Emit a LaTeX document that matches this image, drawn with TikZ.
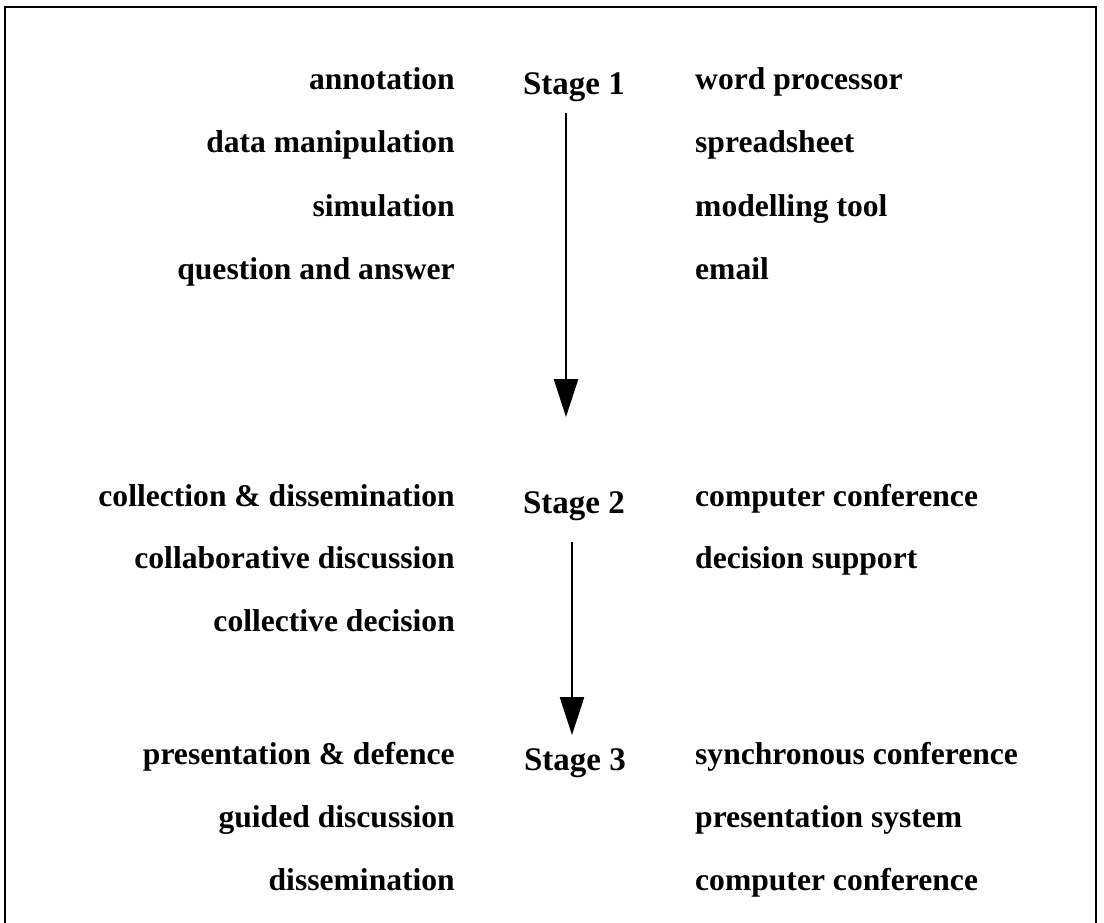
\documentclass[tikz,border=0pt]{standalone}
\usepackage{fontspec}
\setmainfont{Liberation Serif}
\usetikzlibrary{arrows.meta}
\begin{document}
\begin{tikzpicture}[x=1pt,y=-1pt,
  lab/.style={font=\fontsize{31.6}{34}\selectfont\bfseries, inner sep=0pt},
  lft/.style={lab, anchor=base east},
  rgt/.style={lab, anchor=base west},
  stagelab/.style={font=\fontsize{33}{36}\selectfont\bfseries, inner sep=0pt, anchor=base},
  flow/.style={line width=2.8pt, -{Triangle[width=24pt,length=38pt]}},
  frame/.style={line width=1.6pt}]
\useasboundingbox (0,0) rectangle (1104,923);
% frame (open at the bottom)
\coordinate (fbl) at (5,923);
\coordinate (ftl) at (5,7);
\coordinate (ftr) at (1096,7);
\coordinate (fbr) at (1096,923);
\draw[frame] (fbl) -- (ftl) -- (ftr) -- (fbr);
% stage 1
\node[lft] (l1) at (455,90) {annotation};
\node[lft] (l2) at (455,153) {data manipulation};
\node[lft] (l3) at (455,216) {simulation};
\node[lft] (l4) at (455,279) {question and answer};
\node[rgt] (r1) at (695,90) {word processor};
\node[rgt] (r2) at (695,153) {spreadsheet};
\node[rgt] (r3) at (695,216) {modelling tool};
\node[rgt] (r4) at (695,279) {email};
\node[stagelab] (s1) at (574,95) {Stage 1};
% stage 2
\node[lft] (l5) at (455,506) {collection \& dissemination};
\node[lft] (l6) at (455,568) {collaborative discussion};
\node[lft] (l7) at (455,631) {collective decision};
\node[rgt] (r5) at (695,506) {computer conference};
\node[rgt] (r6) at (695,568) {decision support};
\node[stagelab] (s2) at (574,513) {Stage 2};
% stage 3
\node[lft] (l8) at (455,764) {presentation \& defence};
\node[lft] (l9) at (455,827) {guided discussion};
\node[lft] (l10) at (455,890) {dissemination};
\node[rgt] (r7) at (695,764) {synchronous conference};
\node[rgt] (r8) at (695,827) {presentation system};
\node[rgt] (r9) at (695,890) {computer conference};
\node[stagelab] (s3) at (575,770) {Stage 3};
% arrows
\coordinate (a1s) at (566,113);
\coordinate (a1e) at (566,417);
\coordinate (a2s) at (572,542);
\coordinate (a2e) at (572,735);
\draw[flow] (a1s) -- (a1e);
\draw[flow] (a2s) -- (a2e);
\end{tikzpicture}
\end{document}
